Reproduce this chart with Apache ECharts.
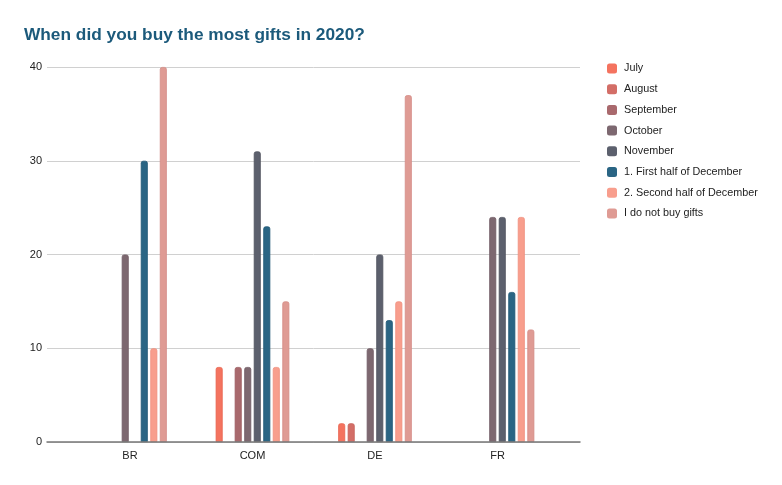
<!DOCTYPE html>
<html>
<head>
<meta charset="utf-8">
<script src="https://cdn.jsdelivr.net/npm/echarts@6/dist/echarts.min.js"></script>
<style>html,body{margin:0;padding:0;background:#fff;}#c{width:782px;height:485px;}</style>
</head>
<body>
<div id="c"></div>
<script>
var categories = ['BR', 'COM', 'DE', 'FR'];
var seriesNames = ['July', 'August', 'September', 'October', 'November', '1. First half of December', '2. Second half of December', 'I do not buy gifts'];
var july = [0, 8, 2, 0];
var august = [0, 0, 2, 0];
var september = [0, 8, 0, 0];
var october = [20, 8, 10, 24];
var november = [0, 31, 20, 24];
var firstHalfDec = [30, 23, 13, 16];
var secondHalfDec = [10, 8, 15, 24];
var noGifts = [40, 15, 37, 12];
var yTicks = [0, 10, 20, 30, 40];

var values = [july, august, september, october, november, firstHalfDec, secondHalfDec, noGifts];
var colors = ['#f4735f', '#d36e67', '#a9696d', '#7d6870', '#5c606d', '#2a6584', '#f89e8d', '#df9b94'];
var borders = ['#e8654f', '#c6625b', '#9c5d61', '#715c64', '#50545f', '#1f5876', '#f08f7e', '#d48d86'];

var font = 'Liberation Sans, Arial, sans-serif';
var chart = echarts.init(document.getElementById('c'), null, {renderer: 'canvas'});
var series = seriesNames.map(function (n, i) {
  return {
    name: n,
    type: 'bar',
    xAxisIndex: 1,
    yAxisIndex: 1,
    barWidth: 7,
    barGap: '36%',
    itemStyle: {color: colors[i], borderColor: borders[i], borderWidth: 0.8, borderRadius: [2, 2, 0, 0]},
    data: values[i].map(function (v) { return v === 0 ? null : v; }),
    z: 2
  };
});
chart.setOption({
  animation: false,
  backgroundColor: '#fff',
  title: {
    text: 'When did you buy the most gifts in 2020?',
    left: 19, top: 22,
    textStyle: {fontFamily: font, fontSize: 17.3, fontWeight: 'bold', color: '#1c5a7b'}
  },
  legend: {
    orient: 'vertical',
    left: 602, top: 58,
    itemWidth: 10, itemHeight: 10,
    itemGap: 9.7,
    icon: 'roundRect',
    data: seriesNames.map(function (n, i) { return {name: n, itemStyle: {color: colors[i], borderWidth: 0}}; }),
    textStyle: {fontFamily: font, fontSize: 10.8, color: '#222', lineHeight: 10, padding: [0, 0, 0, 2]}
  },
  grid: [
    {left: 47, right: 202, top: 67, bottom: 43, containLabel: false},
    {left: 68.75, width: 490, top: 67, bottom: 43, containLabel: false}
  ],
  xAxis: [
    {gridIndex: 0, type: 'category', data: [''], axisLine: {show: true, lineStyle: {color: '#777', width: 1.5}}, axisTick: {show: false}, axisLabel: {show: false}, splitLine: {show: false}, z: 5},
    {gridIndex: 1, type: 'category', data: categories, axisLine: {show: false}, axisTick: {show: false}, axisLabel: {fontFamily: font, fontSize: 11, color: '#222', margin: 8}}
  ],
  yAxis: [
    {gridIndex: 0, type: 'value', min: yTicks[0], max: yTicks[yTicks.length - 1], interval: 10, axisLine: {show: false}, axisTick: {show: false},
     axisLabel: {fontFamily: font, fontSize: 11, color: '#222', margin: 5}, splitLine: {lineStyle: {color: '#d0d0d0', width: 1}}},
    {gridIndex: 1, type: 'value', min: yTicks[0], max: yTicks[yTicks.length - 1], interval: 10, show: false, splitLine: {show: false}}
  ],
  series: series
});
</script>
</body>
</html>
